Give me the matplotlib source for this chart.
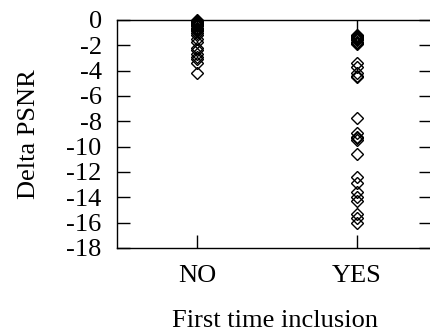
import numpy as np
import matplotlib.pyplot as plt

plt.rcParams['font.family'] = ['Liberation Serif', 'DejaVu Serif']

categories = ['NO', 'YES']
no_vals = [0.0, -0.05, -0.1, -0.15, -0.2, -0.3, -0.35, -0.4, -0.5, -0.6, -0.7,
           -0.8, -0.9, -1.0, -1.2, -1.5, -1.7, -2.2, -2.4, -2.7, -2.9, -3.1,
           -3.4, -4.2]
yes_vals = [-1.15, -1.25, -1.35, -1.45, -1.5, -1.6, -1.7, -1.8, -1.9, -3.4,
            -3.7, -4.2, -4.4, -4.5, -7.7, -8.9, -9.2, -9.35, -9.5, -10.6,
            -12.4, -12.9, -13.6, -14.0, -14.3, -15.3, -15.6, -16.0]
yticks = list(range(0, -19, -2))

fig = plt.figure(figsize=(4.3, 3.33), dpi=100)
ax = fig.add_axes([117/430, 85/333, 315/430, 228/333])

for i, vals in enumerate([no_vals, yes_vals]):
    ax.plot([i + 1] * len(vals), vals, 'D', markersize=6.5, markerfacecolor='none',
            markeredgecolor='black', markeredgewidth=1, clip_on=False)

ax.set_xlim(0.5, 2.47)
ax.set_ylim(-18, 0)
ax.set_xticks([1, 2])
ax.set_xticklabels(categories)
ax.set_yticks(yticks)
ax.set_yticklabels([str(t) for t in yticks])
ax.tick_params(direction='in', length=9.5, width=1, labelsize=19,
               top=True, right=True, pad=11)
ax.tick_params(axis='x', pad=12)
for s in ax.spines.values():
    s.set_linewidth(1)
ax.set_ylabel('Delta PSNR', fontsize=19, labelpad=19)
ax.set_xlabel('First time inclusion', fontsize=19, labelpad=17)

fig.savefig('out.png', dpi=100)
